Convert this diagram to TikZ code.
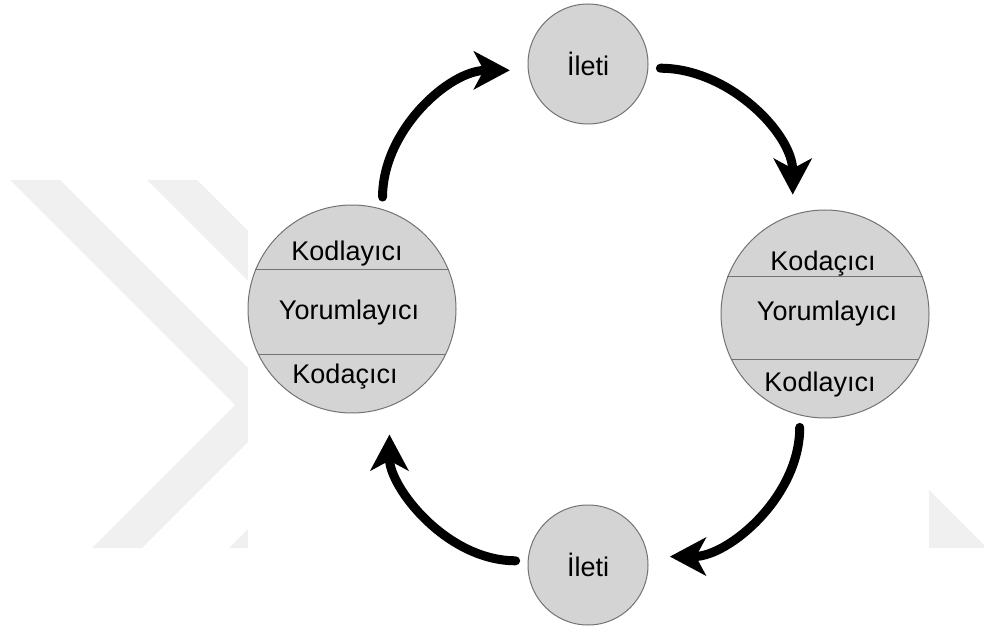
\documentclass[tikz,border=0pt]{standalone}
\usepackage{fontspec}
\setmainfont{Liberation Sans}
\usetikzlibrary{arrows.meta}
\definecolor{wmgray}{gray}{0.94}
\definecolor{discfill}{gray}{0.83}
\definecolor{discline}{gray}{0.45}
\tikzset{
  disc/.style={circle,draw=discline,line width=0.5pt,fill=discfill,inner sep=0pt,font=\fontsize{13.5}{16}\selectfont},
  bigdisc/.style={disc,minimum size=104pt},
  smalldisc/.style={disc,minimum size=60pt},
  lbl/.style={inner sep=0pt,font=\fontsize{13.5}{16}\selectfont},
  divider/.style={draw=discline,line width=0.4pt},
  flow/.style={line width=4.5pt,line cap=round,-{Stealth[length=18pt,width=19pt,inset=5pt]},shorten <=6pt,shorten >=9pt}
}
\begin{document}
\begin{tikzpicture}[x=0.5pt,y=0.5pt]
 \useasboundingbox (0,0) rectangle (984,632);
 % watermark
 \fill[wmgray](10,452)--(60,452)--(285,227)--(142,84)--(92,84)--(235,227)--cycle;
 \fill[wmgray](147,452)--(197,452)--(422,227)--(279,84)--(229,84)--(372,227)--cycle;
 \fill[wmgray](929,142)--(929,84)--(984,84)--(984,87)--cycle;
 \fill[white](248,0) rectangle (929,632);
 % messages
 \node[smalldisc] (topmsg) at (588,568) {İleti};
 \node[smalldisc] (botmsg) at (588,67) {İleti};
 % left side
 \node[bigdisc] (leftc) at (352,323) {};
 \draw[divider](leftc.22)--(leftc.158);
 \draw[divider](leftc.-26)--(leftc.206);
 \node[lbl] (leftenc) at (347,378) {Kodlayıcı};
 \node[lbl] (leftint) at (349,319) {Yorumlayıcı};
 \node[lbl] (leftdec) at (345,255) {Kodaçıcı};
 % right side
 \node[bigdisc] (rightc) at (825,318) {};
 \draw[divider](rightc.21)--(rightc.159);
 \draw[divider](rightc.-26)--(rightc.206);
 \node[lbl] (rightdec) at (823,368) {Kodaçıcı};
 \node[lbl] (rightint) at (827,318) {Yorumlayıcı};
 \node[lbl] (rightenc) at (820,247) {Kodlayıcı};
 % cycle
 \draw[flow](leftc.73) to[out=90,in=180] (topmsg.186);
 \draw[flow,shorten >=10pt](topmsg.-4) to[out=0,in=90] (rightc.108);
 \draw[flow,shorten >=11pt](rightc.256) to[out=-90,in=0] (botmsg.8);
 \draw[flow,shorten >=14pt](botmsg.176) to[out=180,in=-90] (leftc.-69);
\end{tikzpicture}
\end{document}
